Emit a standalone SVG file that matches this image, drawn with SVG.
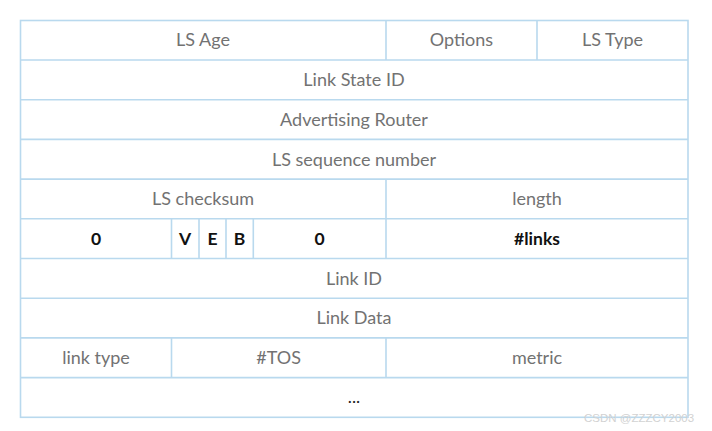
<svg xmlns="http://www.w3.org/2000/svg" width="712" height="431" viewBox="0 0 712 431">
<style>
.ln{stroke:#b9d9ee;stroke-width:1.6;fill:none}
.t{font-family:"Lato","Liberation Sans",sans-serif;font-size:18px;fill:#727272;text-anchor:middle;dominant-baseline:central}
.b{font-family:"Lato","Liberation Sans",sans-serif;font-size:17.5px;font-weight:bold;fill:#111;text-anchor:middle;dominant-baseline:central}
.w{font-family:"Liberation Sans",sans-serif;font-size:11.5px;fill:#d2d2d2;text-anchor:start}
</style>
<rect width="712" height="431" fill="#fff"/>
<g id="grid">
<rect class="ln" x="20.5" y="20.5" width="667.5" height="396.8"/>
<path class="ln" d="M20.5 60H688M20.5 99.7H688M20.5 139.4H688M20.5 179.1H688M20.5 218.8H688M20.5 258.5H688M20.5 298.2H688M20.5 337.9H688M20.5 377.6H688"/>
<path class="ln" d="M386 20.5V60M537 20.5V60M386 179.1V258.5M171.5 218.8V258.5M199 218.8V258.5M226 218.8V258.5M253.3 218.8V258.5M171.5 337.9V377.6M386 337.9V377.6"/>
</g>
<g id="r1"><text class="t" x="203" y="39.4">LS Age</text><text class="t" x="461.5" y="39.4">Options</text><text class="t" x="612.5" y="39.4">LS Type</text></g>
<g id="r2"><text class="t" x="354" y="79.1">Link State ID</text></g>
<g id="r3"><text class="t" x="354" y="118.8">Advertising Router</text></g>
<g id="r4"><text class="t" x="354" y="158.5">LS sequence number</text></g>
<g id="r5"><text class="t" x="203" y="198.2">LS checksum</text><text class="t" x="537" y="198.2">length</text></g>
<g id="r6"><text class="b" x="96" y="238">0</text><text class="b" x="185.2" y="238">V</text><text class="b" x="212.5" y="238">E</text><text class="b" x="239.6" y="238">B</text><text class="b" x="319.6" y="238">0</text><text class="b" x="537" y="238">#links</text></g>
<g id="r7"><text class="t" x="354" y="277.6">Link ID</text></g>
<g id="r8"><text class="t" x="354" y="317.3">Link Data</text></g>
<g id="r9"><text class="t" x="96" y="357">link type</text><text class="t" x="278.7" y="357">#TOS</text><text class="t" x="537" y="357">metric</text></g>
<g id="r10"><text class="b" x="354" y="396.7" style="font-weight:normal;fill:#222">...</text></g>
<text class="w" x="584" y="422">CSDN @ZZZCY2003</text>
</svg>
